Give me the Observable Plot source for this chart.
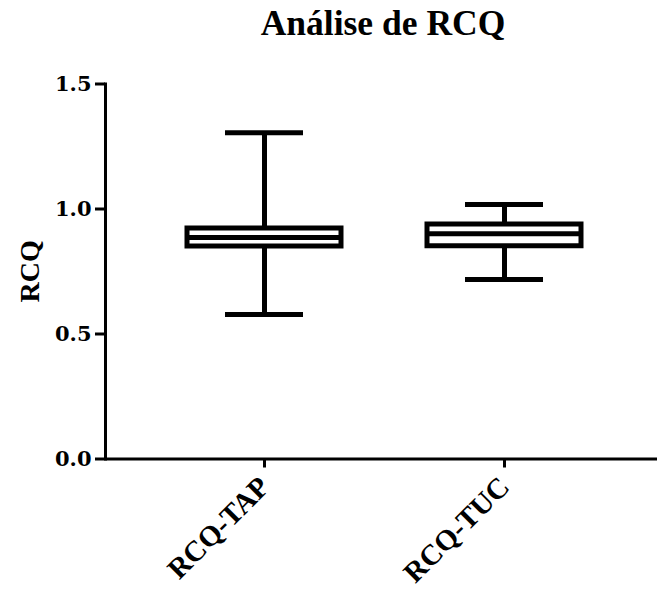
<!DOCTYPE html>
<html>
<head>
<meta charset="utf-8">
<script src="https://cdn.jsdelivr.net/npm/d3@7"></script>
<script src="https://cdn.jsdelivr.net/npm/@observablehq/plot@0.6"></script>
<style>
  body { margin: 0; background: #fff; }
  #title { width: 657px; height: 60px; box-sizing: border-box; padding-left: 109px; padding-top: 4px;
    text-align: center; font-family: "Liberation Serif", serif; font-weight: bold; font-size: 35.5px; line-height: 39px; color: #000; }
  svg { display: block; }
</style>
</head>
<body>
<div id="title">Análise de RCQ</div>
<div id="chart"></div>
<script>
const categories = ["RCQ-TAP", "RCQ-TUC"];
const mins    = [0.578, 0.718];
const q1s     = [0.850, 0.851];
const medians = [0.886, 0.901];
const q3s     = [0.922, 0.938];
const maxs    = [1.305, 1.018];
const yTicks  = [0, 0.5, 1.0, 1.5];
const yLabel  = "RCQ";

const rows = categories.map((c, i) => ({cat: c, min: mins[i], q1: q1s[i], med: medians[i], q3: q3s[i], max: maxs[i]}));

const sw = 5;
const chart = Plot.plot({
  width: 657,
  height: 530,
  marginLeft: 105,
  marginRight: 0,
  marginTop: 23.5,
  marginBottom: 131.5,
  style: {fontFamily: "'DejaVu Serif', serif", fontWeight: "bold", color: "#000", background: "#fff"},
  x: {domain: categories, paddingInner: 0.358, paddingOuter: 0.329, align: 0.52, label: null},
  y: {domain: [0, 1.5], label: null},
  marks: [
    Plot.ruleX(rows, {x: "cat", y1: "min", y2: "q1", stroke: "#000", strokeWidth: sw}),
    Plot.ruleX(rows, {x: "cat", y1: "q3", y2: "max", stroke: "#000", strokeWidth: sw}),
    Plot.tickY(rows, {x: "cat", y: "min", stroke: "#000", strokeWidth: sw, insetLeft: 38, insetRight: 38}),
    Plot.tickY(rows, {x: "cat", y: "max", stroke: "#000", strokeWidth: sw, insetLeft: 38, insetRight: 38}),
    Plot.barY(rows, {x: "cat", y1: "q1", y2: "q3", fill: "#fff", stroke: "#000", strokeWidth: sw}),
    Plot.tickY(rows, {x: "cat", y: "med", stroke: "#000", strokeWidth: sw}),
    Plot.axisY({ticks: yTicks, tickFormat: d3.format(".1f"), tickSize: 10, tickPadding: 4, fontSize: 21, strokeWidth: 3, label: null}),
    Plot.axisX({tickRotate: -45, tickSize: 9, tickPadding: 14, fontSize: 29, strokeWidth: 3, label: null,
      fontFamily: "'Liberation Serif', serif"}),
    Plot.frame({anchor: "left", stroke: "#000", strokeWidth: 3}),
    Plot.ruleY([0], {stroke: "#000", strokeWidth: 3}),
    Plot.text([yLabel], {frameAnchor: "left", dx: -75, dy: 31, rotate: -90, fontSize: 28, fontFamily: "'Liberation Serif', serif", fontWeight: "bold", fill: "#000"})
  ]
});
document.getElementById("chart").appendChild(chart);
</script>
</body>
</html>
